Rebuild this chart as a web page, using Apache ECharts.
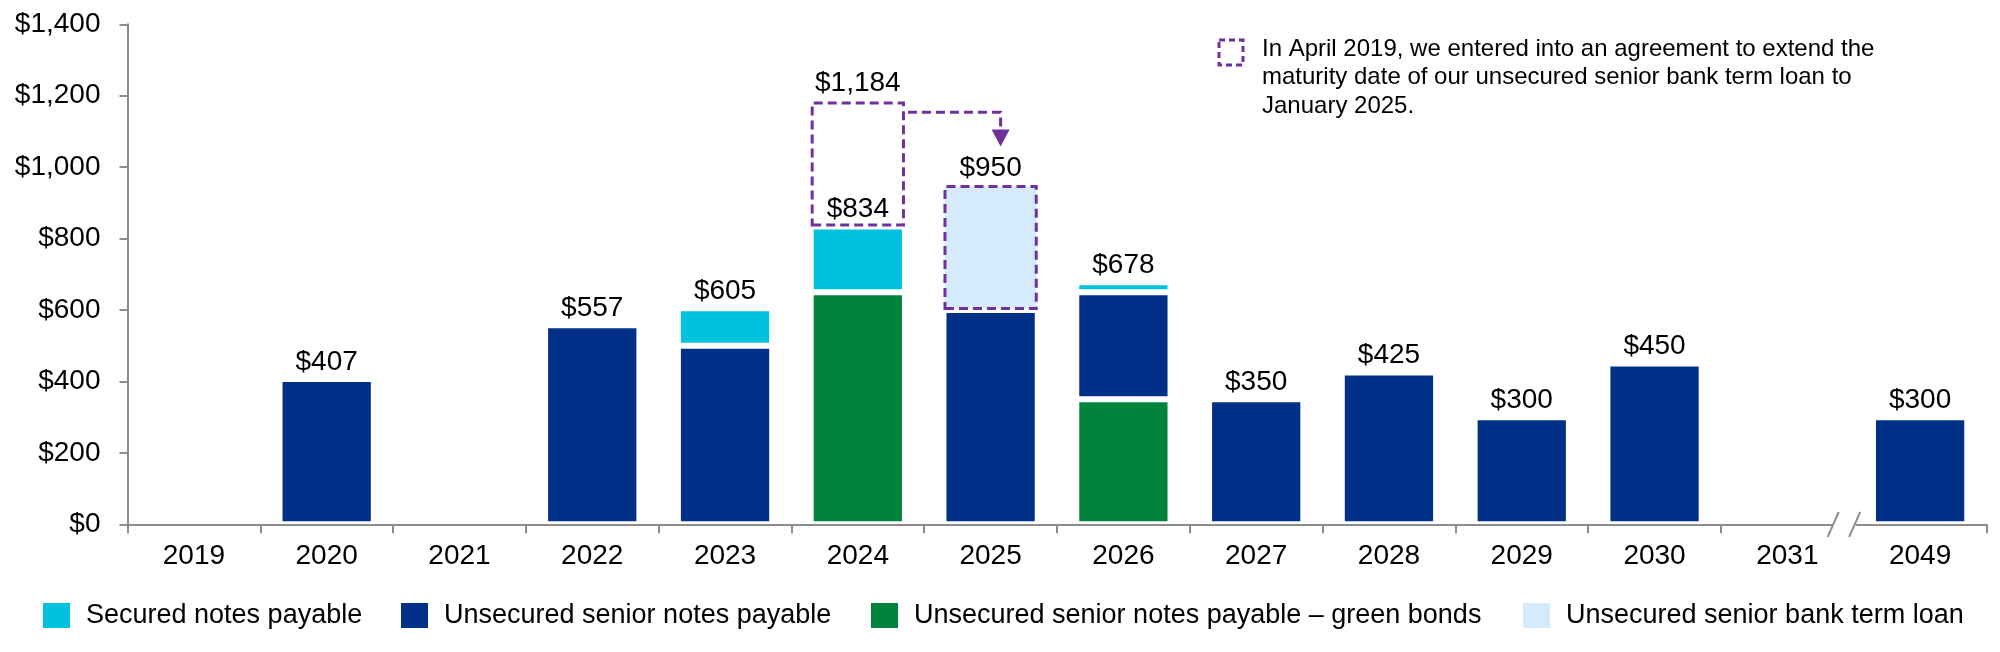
<!DOCTYPE html>
<html><head><meta charset="utf-8">
<script src="https://cdn.jsdelivr.net/npm/echarts@6/dist/echarts.min.js"></script>
<style>html,body{margin:0;padding:0;background:#fff}#c{width:2000px;height:652px}</style>
</head><body><div id="c"></div>
<script>
// ---- data ----
const years = ['2019','2020','2021','2022','2023','2024','2025','2026','2027','2028','2029','2030','2031','2049'];
const greenBonds       = [null,null,null,null,null,650,null,350,null,null,null,null,null,null];
const unsecuredNotes   = [null,407,null,557,500,null,600,300,350,425,300,450,null,300];
const securedNotes     = [null,null,null,null,105,184,null,28,null,null,null,null,null,null];
const termLoan         = [null,null,null,null,null,null,350,null,null,null,null,null,null,null];
const termLoanOriginal = [null,null,null,null,null,350,null,null,null,null,null,null,null,null];
const totals           = [null,407,null,557,605,834,950,678,350,425,300,450,null,300];
// extension arrow: from 2024 at level 1154 to 2025, tip at 1058
const extensionArrow = ['2024', 1154, '2025', 1058];
const noteText = 'In April 2019, we entered into an agreement to extend the\nmaturity date of our unsecured senior bank term loan to\nJanuary 2025.';

const FONT = '"Liberation Sans", Arial, Helvetica, sans-serif';
const C = {cyan:'#00C1DE', navy:'#003087', green:'#00843D', light:'#D5EAFB', purple:'#7030A0', axis:'#8C8C8C'};
const fmt = v => '$' + Number(v).toLocaleString('en-US');
const BAR = {type:'bar', stack:'debt', barCategoryGap:'29%', barGap:'-100%'};
const whiteEdge = {borderColor:'#fff', borderWidth:3};
const dash = [9,5];

const chart = echarts.init(document.getElementById('c'));
const legendBase = {
  top: 602, padding: 0, itemWidth: 27, itemHeight: 25, icon: 'rect',
  itemStyle: {borderWidth: 0},
  textStyle: {fontSize: 27, color: '#000', fontFamily: FONT, padding: [0,0,0,11]},
  selectedMode: false
};
const option = {
  animation: false,
  textStyle: {fontFamily: FONT},
  grid: {left: 127.5, right: 13.5, top: 24.3, bottom: 127.7, containLabel: false, outerBoundsMode: 'none'},
  xAxis: {
    type: 'category', data: years, z: 10,
    axisLine: {show: true, lineStyle: {color: C.axis, width: 2}},
    axisTick: {show: true, length: 9, lineStyle: {color: C.axis, width: 2}},
    axisLabel: {fontSize: 28, color: '#000', margin: 18, fontFamily: FONT},
    splitLine: {show: false}
  },
  yAxis: {
    type: 'value', min: 0, max: 1400, interval: 200,
    splitLine: {show: false},
    axisLine: {show: true, lineStyle: {color: C.axis, width: 2}},
    axisTick: {show: true, length: 8, lineStyle: {color: C.axis, width: 2}},
    axisLabel: {fontSize: 28, color: '#000', margin: 27, fontFamily: FONT, formatter: fmt}
  },
  legend: [
    Object.assign({}, legendBase, {left: 43,   data: ['Secured notes payable']}),
    Object.assign({}, legendBase, {left: 401,  data: ['Unsecured senior notes payable']}),
    Object.assign({}, legendBase, {left: 871,  data: ['Unsecured senior notes payable \u2013 green bonds']}),
    Object.assign({}, legendBase, {left: 1523, data: ['Unsecured senior bank term loan']})
  ],
  series: [
    Object.assign({}, BAR, {name: 'Unsecured senior notes payable \u2013 green bonds', data: greenBonds,
      itemStyle: Object.assign({color: C.green}, whiteEdge)}),
    Object.assign({}, BAR, {name: 'Unsecured senior notes payable', data: unsecuredNotes,
      itemStyle: Object.assign({color: C.navy}, whiteEdge)}),
    Object.assign({}, BAR, {name: 'Secured notes payable', data: securedNotes,
      itemStyle: Object.assign({color: C.cyan}, whiteEdge)}),
    Object.assign({}, BAR, {name: 'Unsecured senior bank term loan', data: termLoan,
      itemStyle: {color: C.light, borderColor: C.purple, borderWidth: 3, borderType: dash}}),
    Object.assign({}, BAR, {name: 'Term loan (original maturity)', data: termLoanOriginal,
      itemStyle: {color: 'rgba(0,0,0,0)', borderColor: C.purple, borderWidth: 3, borderType: dash},
      label: {show: true, position: 'top', distance: 4, fontSize: 28, color: '#000', fontFamily: FONT,
        formatter: p => fmt(totals[p.dataIndex] + termLoanOriginal[p.dataIndex])}}),
    {type: 'bar', name: 'Total', data: totals, barCategoryGap: '29%', barGap: '-100%', silent: true, z: 6,
      itemStyle: {color: 'rgba(0,0,0,0)'},
      label: {show: true, position: 'top', distance: 3, fontSize: 28, color: '#000', fontFamily: FONT,
        formatter: p => fmt(p.value)}},
    {type: 'custom', name: 'Extension arrow', silent: true, z: 7,
      data: [extensionArrow], encode: {x: [0, 2], y: [1, 3]},
      renderItem: (params, api) => {
        const a = api.coord([api.value(0), api.value(1)]);
        const b = api.coord([api.value(2), api.value(1)]);
        const tip = api.coord([api.value(2), api.value(3)]);
        const half = api.size([1, 0])[0] * 0.71 / 2;
        const xs = a[0] + half + 3, xe = b[0] + 10, head = 17;
        return {type: 'group', children: [
          {type: 'polyline', shape: {points: [[xs, a[1]], [xe, a[1]], [xe, tip[1] - head]]},
            style: {stroke: C.purple, lineWidth: 3, lineDash: dash, fill: null}},
          {type: 'polygon', shape: {points: [[xe - 9, tip[1] - head], [xe + 9, tip[1] - head], [xe, tip[1]]]},
            style: {fill: C.purple}}
        ]};
      }}
  ]
};
chart.setOption(option);

// axis break marks between the last two categories + note
const c0 = chart.convertToPixel({xAxisIndex: 0}, years[years.length - 2]);
const c1 = chart.convertToPixel({xAxisIndex: 0}, years[years.length - 1]);
const bnd = (c0 + c1) / 2;
const y0 = chart.convertToPixel({yAxisIndex: 0}, 0);
chart.setOption({graphic: [
  {type: 'rect', z: 100, shape: {x: bnd - 21, y: y0 - 3, width: 23, height: 14}, style: {fill: '#fff'}},
  {type: 'line', z: 101, shape: {x1: bnd - 15, y1: y0 - 12.5, x2: bnd - 26, y2: y0 + 12.5}, style: {stroke: C.axis, lineWidth: 2}},
  {type: 'line', z: 101, shape: {x1: bnd + 6.5, y1: y0 - 12.5, x2: bnd - 4.5, y2: y0 + 12.5}, style: {stroke: C.axis, lineWidth: 2}},
  {type: 'rect', z: 100, shape: {x: 1219, y: 40, width: 24, height: 25},
    style: {fill: null, stroke: C.purple, lineWidth: 3, lineDash: [6, 4]}},
  {type: 'text', z: 100, left: 1262, top: 35,
    style: {text: noteText, font: '24px ' + FONT, lineHeight: 28.5, fill: '#000'}}
]});
</script>
</body></html>
